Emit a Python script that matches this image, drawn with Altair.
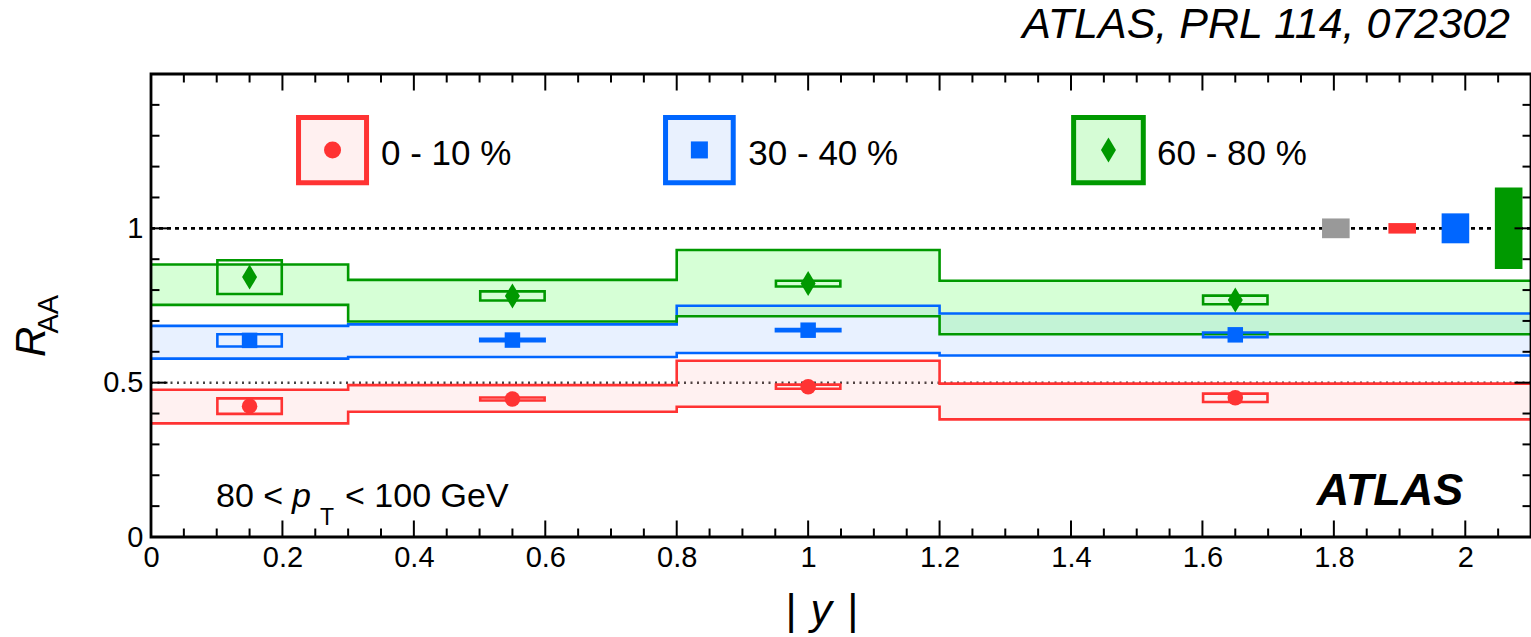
import altair as alt
import pandas as pd

# ---------------- data ----------------
bin_edges = [0.0, 0.3, 0.8, 1.2, 2.1]

red_band_hi = [0.477, 0.492, 0.571, 0.497]
red_band_lo = [0.368, 0.406, 0.422, 0.381]
blue_band_hi = [0.684, 0.689, 0.749, 0.724]
blue_band_lo = [0.578, 0.583, 0.596, 0.588]
green_band_hi = [0.883, 0.833, 0.930, 0.830]
green_band_lo = [0.752, 0.698, 0.715, 0.657]

point_y = [0.15, 0.55, 1.0, 1.65]          # |y| bin centres
red_raa = [0.424, 0.447, 0.487, 0.451]
red_sys = [0.025, 0.005, 0.0066, 0.0136]
blue_raa = [0.637, 0.638, 0.670, 0.655]
blue_sys = [0.020, 0.004, 0.0034, 0.0076]
green_raa = [0.842, 0.781, 0.821, 0.768]
green_sys = [0.0546, 0.0147, 0.0094, 0.0141]
box_halfwidth = 0.049

norm_x = [1.803, 1.904, 1.985, 2.066]
norm_unc = [0.032, 0.017, 0.0485, 0.132]
norm_names = ["lumi", "0-10", "30-40", "60-80"]

legend_labels = ["0 - 10 %", "30 - 40 %", "60 - 80 %"]
x_tick_labels = [0, 0.2, 0.4, 0.6, 0.8, 1, 1.2, 1.4, 1.6, 1.8, 2]
y_tick_labels = [0, 0.5, 1]

# ---------------- styles / layout ----------------
FONT = "Liberation Sans"
RED, BLUE, GREEN, GRAY = "#ff3333", "#0066ff", "#009900", "#999999"
RED_FILL, BLUE_FILL, GREEN_FILL = "#fff0f0", "#e9f1fe", "#d5fcd5"
XMAX, YMAX = 2.1, 1.5

xs = alt.Scale(domain=[0, XMAX], nice=False, zero=False)
ys = alt.Scale(domain=[0, YMAX], nice=False, zero=False)

X_AXIS = alt.Axis(values=x_tick_labels, format="~g", ticks=False, domain=False,
                  grid=False, labelFont=FONT, labelFontSize=29, labelColor="black",
                  labelPadding=6, labelFlush=False, title=None)
Y_AXIS = alt.Axis(values=y_tick_labels, format="~g", ticks=False, domain=False,
                  grid=False, labelFont=FONT, labelFontSize=29, labelColor="black",
                  labelPadding=8, labelFlush=False, title=None)


def X(f):
    return alt.X(f, type="quantitative", scale=xs, axis=X_AXIS, title=None)


def Y(f):
    return alt.Y(f, type="quantitative", scale=ys, axis=Y_AXIS, title=None)


layers = []

# reference dotted lines
ref_df = pd.DataFrame({"y": [1.0], "x": [0.0], "x2": [XMAX]})
layers.append(alt.Chart(ref_df).mark_rule(color="black", strokeWidth=2.6, strokeDash=[4, 4]).encode(
    x=X("x"), x2="x2", y=Y("y")))
half_df = pd.DataFrame({"y": [0.5], "x": [0.0], "x2": [XMAX]})
layers.append(alt.Chart(half_df).mark_rule(color="#444444", strokeWidth=2.5, strokeDash=[2, 4.5]).encode(
    x=X("x"), x2="x2", y=Y("y")))

bands = [
    (red_band_lo, red_band_hi, RED, "#ff3333", 0.07),
    (blue_band_lo, blue_band_hi, BLUE, "#0066ff", 0.09),
    (green_band_lo, green_band_hi, GREEN, "#33ff33", 0.2),
]

# band fills
for lo, hi, col, fcol, op in bands:
    df = pd.DataFrame({"x": bin_edges, "lo": lo + [lo[-1]], "hi": hi + [hi[-1]]})
    layers.append(alt.Chart(df).mark_area(interpolate="step-after", color=fcol, opacity=op).encode(
        x=X("x"), y=Y("lo"), y2="hi"))

# band outlines
for lo, hi, col, fcol, op in bands:
    rows = []
    for edge, vals in (("lo", lo), ("hi", hi)):
        for xe, v in zip(bin_edges, vals + [vals[-1]]):
            rows.append({"x": xe, "v": v, "edge": edge})
    df = pd.DataFrame(rows)
    layers.append(alt.Chart(df).mark_line(interpolate="step-after", color=col, strokeWidth=2.6).encode(
        x=X("x"), y=Y("v"), detail="edge:N"))

# systematic boxes and markers
diamond = "M0,-1L0.6,0L0,1L-0.6,0Z"
series = [
    (red_raa, red_sys, RED, "circle", 240),
    (blue_raa, blue_sys, BLUE, "square", 240),
    (green_raa, green_sys, GREEN, diamond, 625),
]
for vals, sys, col, shape, size in series:
    df = pd.DataFrame({"x": point_y, "v": vals, "s": sys})
    df["x0"] = df["x"] - box_halfwidth
    df["x1"] = df["x"] + box_halfwidth
    df["y0"] = df["v"] - df["s"]
    df["y1"] = df["v"] + df["s"]
    layers.append(alt.Chart(df).mark_rect(fillOpacity=0, stroke=col, strokeWidth=2.6).encode(
        x=X("x0"), x2="x1", y=Y("y0"), y2="y1"))
    layers.append(alt.Chart(df).mark_point(shape=shape, filled=True, size=size, color=col, opacity=1).encode(
        x=X("x"), y=Y("v")))

# normalisation uncertainty boxes at unity
norm_df = pd.DataFrame({"x": norm_x, "u": norm_unc, "n": norm_names})
norm_df["x0"] = norm_df["x"] - 0.021
norm_df["x1"] = norm_df["x"] + 0.021
norm_df["y0"] = 1 - norm_df["u"]
norm_df["y1"] = 1 + norm_df["u"]
layers.append(alt.Chart(norm_df).mark_rect().encode(
    x=X("x0"), x2="x1", y=Y("y0"), y2="y1",
    color=alt.Color("n:N", scale=alt.Scale(domain=norm_names, range=[GRAY, RED, BLUE, GREEN]), legend=None)))

# legend
leg_x0 = [0.2245, 0.783, 1.404]
leg_x1 = [0.328, 0.886, 1.510]
leg_df = pd.DataFrame({"x0": leg_x0, "x1": leg_x1, "lab": legend_labels})
leg_df["y0"] = 1.148
leg_df["y1"] = 1.359
leg_df["xm"] = (leg_df["x0"] + leg_df["x1"]) / 2
leg_df["ym"] = 1.254
leg_df["xt"] = [0.350, 0.909, 1.531]
leg_df["yt"] = 1.205
fills = [RED_FILL, BLUE_FILL, GREEN_FILL]
cols = [RED, BLUE, GREEN]
shapes = ["circle", "square", diamond]
sizes = [290, 290, 625]
for i in range(3):
    d = leg_df.iloc[[i]]
    layers.append(alt.Chart(d).mark_rect(fill=fills[i], stroke=cols[i], strokeWidth=5).encode(
        x=X("x0"), x2="x1", y=Y("y0"), y2="y1"))
    layers.append(alt.Chart(d).mark_point(shape=shapes[i], filled=True, size=sizes[i], color=cols[i], opacity=1).encode(
        x=X("xm"), y=Y("ym")))
layers.append(alt.Chart(leg_df).mark_text(align="left", baseline="alphabetic", font=FONT, fontSize=35, color="black").encode(
    x=X("xt"), y=Y("yt"), text="lab:N"))


def text_layer(txt, x, y, size, align="left", style=None, weight=None, angle=None):
    df = pd.DataFrame({"t": [txt], "x": [x], "y": [y]})
    kw = dict(align=align, baseline="alphabetic", font=FONT, fontSize=size, color="black")
    if style:
        kw["fontStyle"] = style
    if weight:
        kw["fontWeight"] = weight
    if angle is not None:
        kw["angle"] = angle
    return alt.Chart(df).mark_text(**kw).encode(x=X("x"), y=Y("y"), text="t:N")


# annotations
layers.append(text_layer("ATLAS, PRL 114, 072302", 2.068, 1.617, 43, align="right", style="italic"))
layers.append(text_layer("ATLAS", 1.997, 0.104, 45, align="right", style="italic", weight="bold"))
layers.append(text_layer("80 <", 0.099, 0.097, 34))
layers.append(text_layer("p", 0.2146, 0.097, 34, style="italic"))
layers.append(text_layer("T", 0.2570, 0.039, 23))
layers.append(text_layer("< 100 GeV", 0.2953, 0.097, 34))
# axis titles
layers.append(text_layer("|", 0.974, -0.282, 43, align="center"))
layers.append(text_layer("y", 1.020, -0.282, 43, align="center", style="italic"))
layers.append(text_layer("|", 1.068, -0.282, 43, align="center"))
layers.append(text_layer("R", -0.161, 0.632, 42, align="center", style="italic", angle=270))
layers.append(text_layer("AA", -0.1416, 0.722, 29, align="center", angle=270))

# inward ticks (ROOT style) on all four sides
xt_rows = []
for i in range(0, 43):
    v = round(i * 0.05, 2)
    ln = 0.0535 if i % 4 == 0 else 0.0275
    xt_rows.append({"x": v, "y": 0.0, "y2": ln})
    xt_rows.append({"x": v, "y": YMAX, "y2": YMAX - ln})
layers.append(alt.Chart(pd.DataFrame(xt_rows)).mark_rule(color="black", strokeWidth=2).encode(
    x=X("x"), y=Y("y"), y2="y2"))
yt_rows = []
for i in range(0, 16):
    v = round(i * 0.1, 2)
    ln = 0.0251 if i % 5 == 0 else 0.0129
    yt_rows.append({"y": v, "x": 0.0, "x2": ln})
    yt_rows.append({"y": v, "x": XMAX, "x2": XMAX - ln})
layers.append(alt.Chart(pd.DataFrame(yt_rows)).mark_rule(color="black", strokeWidth=2).encode(
    y=Y("y"), x=X("x"), x2="x2"))

# frame
frame_df = pd.DataFrame({"x0": [0.0], "x1": [XMAX], "y0": [0.0], "y1": [YMAX]})
layers.append(alt.Chart(frame_df).mark_rect(fillOpacity=0, stroke="black", strokeWidth=2.8).encode(
    x=X("x0"), x2="x1", y=Y("y0"), y2="y1"))

chart = alt.layer(*layers).properties(
    width=1380, height=463,
    autosize=alt.AutoSizeParams(type="none"),
    padding={"left": 151, "top": 74, "right": 0, "bottom": 100},
    background="white",
).configure_view(strokeWidth=0)

chart.save("out.html", embed_options={"renderer": "svg", "actions": False})
